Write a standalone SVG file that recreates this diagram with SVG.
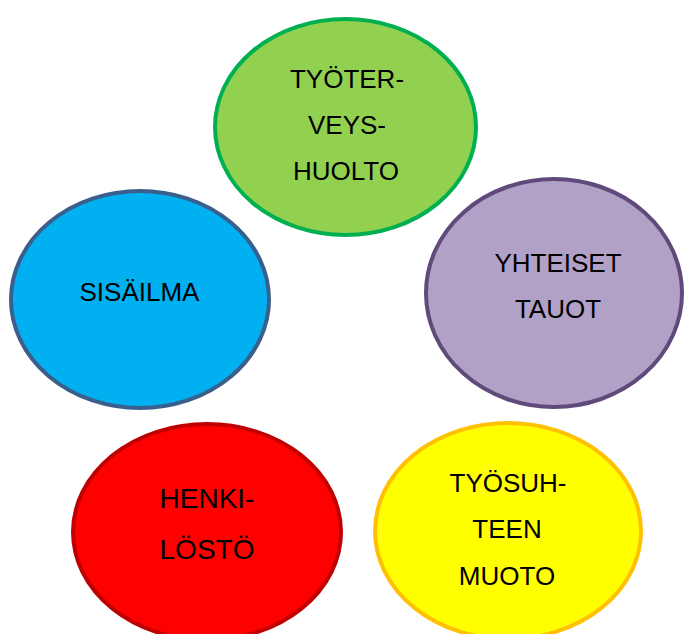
<svg xmlns="http://www.w3.org/2000/svg" width="684" height="634" viewBox="0 0 684 634">
<style>
ellipse{stroke-width:4}
text{font-family:"Liberation Sans",Arial,sans-serif;font-size:26px;fill:#000;text-anchor:middle}
.big{font-size:28px}
</style>
<rect width="684" height="634" fill="#fff"/>
<g id="tyoterveyshuolto">
<ellipse cx="345.5" cy="127" rx="130.5" ry="108" fill="#92D050" stroke="#00B050"/>
<text x="347" y="88">TYÖTER-</text>
<text x="347" y="134">VEYS-</text>
<text x="346" y="180">HUOLTO</text>
</g>
<g id="yhteiset-tauot">
<ellipse cx="554" cy="293" rx="128" ry="114" fill="#B2A1C7" stroke="#604A7B"/>
<text x="558" y="272">YHTEISET</text>
<text x="558" y="318">TAUOT</text>
</g>
<g id="sisailma">
<ellipse cx="140" cy="299.5" rx="129" ry="108.5" fill="#00B0F0" stroke="#3A5F8C"/>
<text x="139.5" y="301">SISÄILMA</text>
</g>
<g id="henkilosto">
<ellipse cx="207" cy="532" rx="134" ry="108" fill="#FF0000" stroke="#C00000"/>
<text class="big" x="207" y="507.5">HENKI-</text>
<text class="big" x="207" y="558.5">LÖSTÖ</text>
</g>
<g id="tyosuhteen-muoto">
<ellipse cx="508" cy="531" rx="133" ry="108" fill="#FFFF00" stroke="#FFC000"/>
<text x="508" y="492">TYÖSUH-</text>
<text x="507" y="538">TEEN</text>
<text x="507" y="585">MUOTO</text>
</g>
<g id="connectors"></g>
</svg>
